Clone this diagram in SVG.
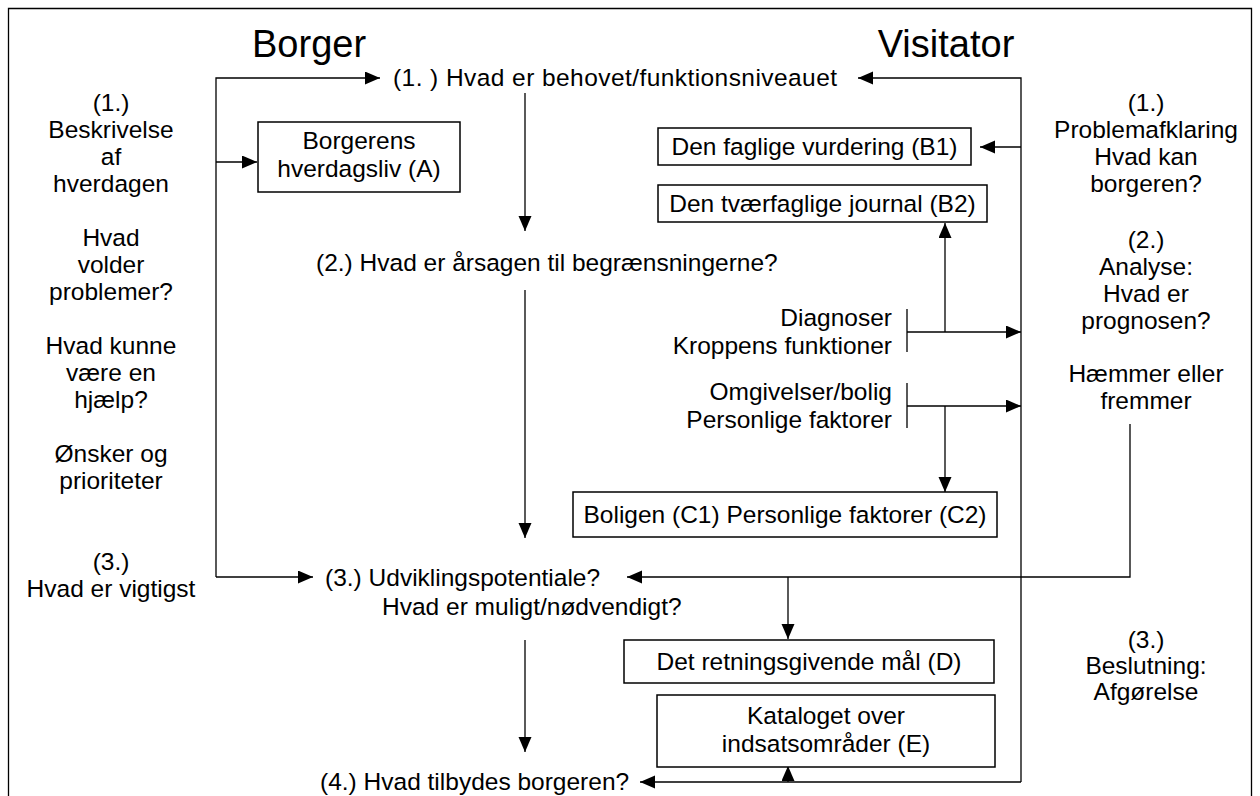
<svg xmlns="http://www.w3.org/2000/svg" width="1260" height="796" viewBox="0 0 1260 796">
<defs>
<marker id="ah" markerUnits="userSpaceOnUse" markerWidth="16" markerHeight="14" refX="15" refY="6.5" orient="auto">
<path d="M0,0 L15,6.5 L0,13 z" fill="#000"/>
</marker>
<style>
text{font-family:"Liberation Sans",Arial,sans-serif;font-size:24.5px;fill:#000}
.t{font-size:38px}
.c{text-anchor:middle}
.e{text-anchor:end}
.box{fill:#fff;stroke:#000;stroke-width:1.5}
.ln{fill:none;stroke:#000;stroke-width:1.3}
.ar{fill:none;stroke:#000;stroke-width:1.3;marker-end:url(#ah)}
</style>
</defs>
<rect width="1260" height="796" fill="#fff"/>
<path class="ln" d="M8.5,796 V8.5 H1251.5 V796" stroke-width="1.5"/>

<g id="titles">
<text class="t" x="252" y="57">Borger</text>
<text class="t c" x="946" y="57">Visitator</text>
</g>

<g id="connectors">
<path class="ar" d="M216,577 V78 H380"/>
<path class="ar" d="M216,162 H257"/>
<path class="ar" d="M216,577 H313"/>
<path class="ar" d="M1021,782 V78 H858"/>
<path class="ar" d="M1021,147 H980"/>
<path class="ar" d="M1021,782 H640"/>
<path class="ar" d="M525,93 V231"/>
<path class="ar" d="M525,290 V538"/>
<path class="ar" d="M525,640 V752"/>
<path class="ln" d="M907,309 V352 M907,383 V428"/>
<path class="ar" d="M907,332 H1021"/>
<path class="ar" d="M945,332 V223"/>
<path class="ar" d="M907,406 H1021"/>
<path class="ar" d="M945,406 V492"/>
<path class="ar" d="M1130,424 V577 H627"/>
<path class="ar" d="M788,577 V639"/>
<path class="ar" d="M788,782 V766"/>
</g>

<g id="left-column">
<text class="c" x="111" y="111">(1.)</text>
<text class="c" x="111" y="138">Beskrivelse</text>
<text class="c" x="111" y="165">af</text>
<text class="c" x="111" y="192">hverdagen</text>
<text class="c" x="111" y="246">Hvad</text>
<text class="c" x="111" y="273">volder</text>
<text class="c" x="111" y="300">problemer?</text>
<text class="c" x="111" y="354">Hvad kunne</text>
<text class="c" x="111" y="381">være en</text>
<text class="c" x="111" y="408">hjælp?</text>
<text class="c" x="111" y="462">Ønsker og</text>
<text class="c" x="111" y="489">prioriteter</text>
<text class="c" x="111" y="570">(3.)</text>
<text class="c" x="111" y="597">Hvad er vigtigst</text>
</g>

<g id="right-column">
<text class="c" x="1146" y="111">(1.)</text>
<text class="c" x="1146" y="138">Problemafklaring</text>
<text class="c" x="1146" y="165">Hvad kan</text>
<text class="c" x="1146" y="192">borgeren?</text>
<text class="c" x="1146" y="248">(2.)</text>
<text class="c" x="1146" y="275">Analyse:</text>
<text class="c" x="1146" y="302">Hvad er</text>
<text class="c" x="1146" y="329">prognosen?</text>
<text class="c" x="1146" y="382">Hæmmer eller</text>
<text class="c" x="1146" y="409">fremmer</text>
<text class="c" x="1146" y="648">(3.)</text>
<text class="c" x="1146" y="674">Beslutning:</text>
<text class="c" x="1146" y="700">Afgørelse</text>
</g>

<g id="step1">
<text x="393" y="86" textLength="444">(1. ) Hvad er behovet/funktionsniveauet</text>
</g>
<g id="step2">
<text x="316" y="271">(2.) Hvad er årsagen til begrænsningerne?</text>
</g>
<g id="step3">
<text x="325" y="586">(3.) Udviklingspotentiale?</text>
<text x="382" y="615">Hvad er muligt/nødvendigt?</text>
</g>
<g id="step4">
<text x="320" y="790">(4.) Hvad tilbydes borgeren?</text>
</g>

<g id="factors">
<text class="e" x="892" y="326">Diagnoser</text>
<text class="e" x="892" y="354">Kroppens funktioner</text>
<text class="e" x="892" y="400">Omgivelser/bolig</text>
<text class="e" x="892" y="428">Personlige faktorer</text>
</g>

<g id="boxA">
<rect class="box" x="258" y="122" width="202" height="70"/>
<text class="c" x="359" y="149">Borgerens</text>
<text class="c" x="359" y="177">hverdagsliv (A)</text>
</g>
<g id="boxB1">
<rect class="box" x="658" y="128" width="313" height="37"/>
<text class="c" x="814.5" y="155">Den faglige vurdering (B1)</text>
</g>
<g id="boxB2">
<rect class="box" x="658" y="185" width="329" height="37"/>
<text class="c" x="822.5" y="212">Den tværfaglige journal (B2)</text>
</g>
<g id="boxC">
<rect class="box" x="573" y="492" width="424" height="45"/>
<text class="c" x="785" y="523">Boligen (C1) Personlige faktorer (C2)</text>
</g>
<g id="boxD">
<rect class="box" x="624" y="640" width="370" height="43"/>
<text class="c" x="809" y="670">Det retningsgivende mål (D)</text>
</g>
<g id="boxE">
<rect class="box" x="657" y="695" width="338" height="72"/>
<text class="c" x="826" y="724">Kataloget over</text>
<text class="c" x="826" y="752">indsatsområder (E)</text>
</g>
</svg>
